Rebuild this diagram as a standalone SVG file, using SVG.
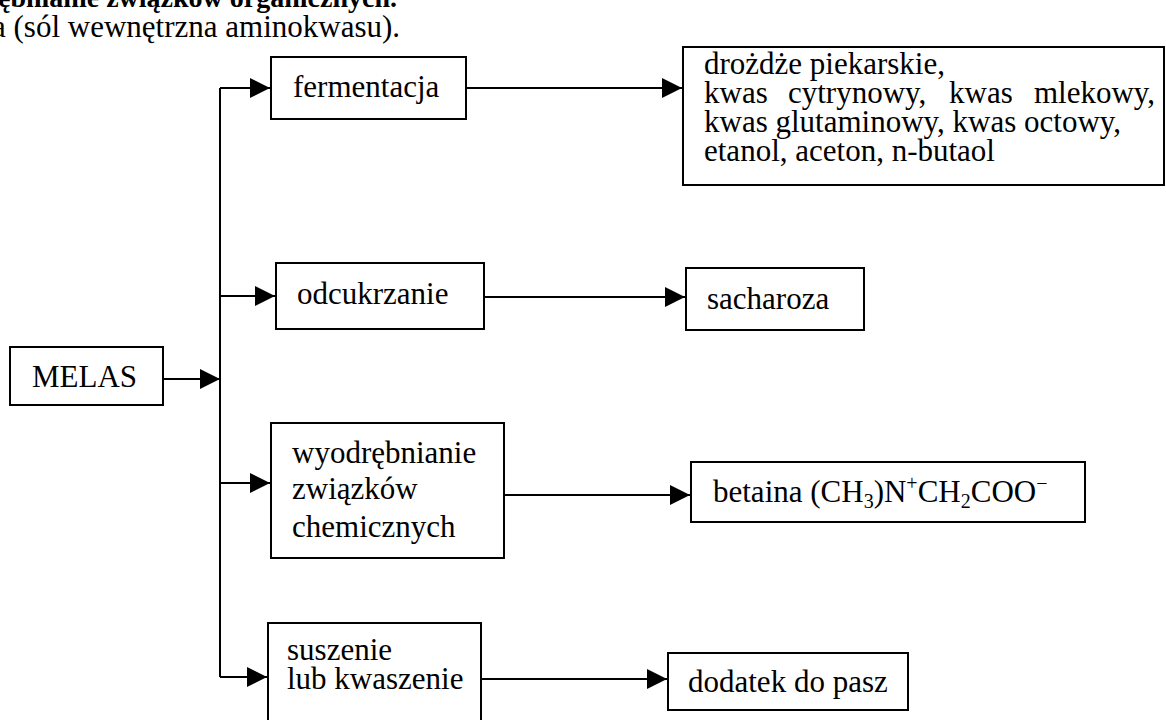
<svg xmlns="http://www.w3.org/2000/svg" width="1166" height="720" viewBox="0 0 1166 720">
<style>
text{font-family:"Liberation Serif","Times New Roman",serif;font-size:31px;fill:#000}
.b{font-weight:bold}
.s{font-size:20px}
rect{fill:#fff;stroke:#000;stroke-width:2}
.c path{fill:none;stroke:#000;stroke-width:2}
</style>
<defs>
<marker id="ah" markerUnits="userSpaceOnUse" markerWidth="21" markerHeight="20" refX="20" refY="10" orient="auto"><path d="M0,0 L20,10 L0,20 Z" fill="#000"/></marker>
</defs>
<rect width="1166" height="720" style="stroke:none"/>
<g id="header">
<text class="b" x="-2" y="7" style="font-size:28px">ębnianie związków organicznych.</text>
<text x="-8" y="37">a (sól wewnętrzna aminokwasu).</text>
</g>
<g class="c" id="connectors">
<path d="M161,379 H220" marker-end="url(#ah)"/>
<path d="M220,88 V677"/>
<path d="M220,88 H270" marker-end="url(#ah)"/>
<path d="M220,296 H275" marker-end="url(#ah)"/>
<path d="M220,483 H270" marker-end="url(#ah)"/>
<path d="M220,677 H267" marker-end="url(#ah)"/>
<path d="M466,88 H682" marker-end="url(#ah)"/>
<path d="M482,297 H685" marker-end="url(#ah)"/>
<path d="M505,495 H690" marker-end="url(#ah)"/>
<path d="M479,679 H667" marker-end="url(#ah)"/>
</g>
<g id="melas"><rect x="10" y="347" width="153" height="58"/><text x="32" y="387">MELAS</text></g>
<g id="fermentacja"><rect x="271" y="57" width="195" height="62"/><text x="293" y="97">fermentacja</text></g>
<g id="produkty"><rect x="683" y="47" width="481" height="138"/>
<text x="704" y="74">drożdże piekarskie,</text>
<text y="103"><tspan x="704">kwas</tspan><tspan x="788">cytrynowy,</tspan><tspan x="949">kwas</tspan><tspan x="1034">mlekowy,</tspan></text>
<text x="704" y="132">kwas glutaminowy, kwas octowy,</text>
<text x="704" y="161">etanol, aceton, n-butaol</text>
</g>
<g id="odcukrzanie"><rect x="276" y="263" width="208" height="66"/><text x="297" y="304">odcukrzanie</text></g>
<g id="sacharoza"><rect x="686" y="268" width="178" height="62"/><text x="707" y="309">sacharoza</text></g>
<g id="wyodrebnianie"><rect x="271" y="423" width="233" height="135"/>
<text x="292" y="463">wyodrębnianie</text><text x="292" y="499">związków</text><text x="292" y="537">chemicznych</text></g>
<g id="betaina"><rect x="691" y="462" width="394" height="60"/>
<text x="713" y="502">betaina (CH<tspan class="s" dy="6">3</tspan><tspan dy="-6">)N</tspan><tspan class="s" dy="-12">+</tspan><tspan dy="12">CH</tspan><tspan class="s" dy="6">2</tspan><tspan dy="-6">COO</tspan><tspan class="s" dy="-12">−</tspan></text></g>
<g id="suszenie"><rect x="268" y="623" width="213" height="100"/>
<text x="287" y="660">suszenie</text><text x="287" y="689">lub kwaszenie</text></g>
<g id="dodatek"><rect x="668" y="653" width="240" height="57"/><text x="688" y="692">dodatek do pasz</text></g>
</svg>
